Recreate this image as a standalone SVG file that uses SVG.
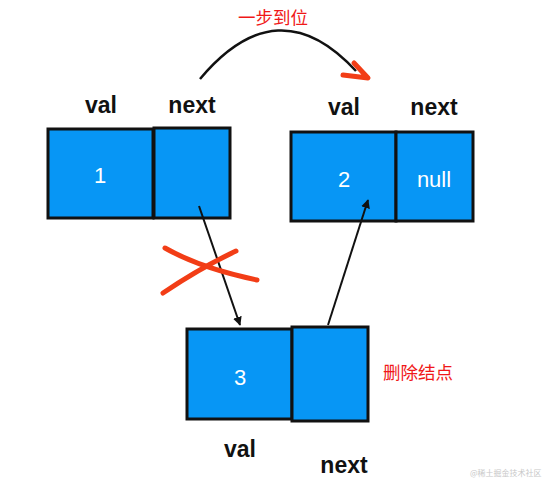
<svg xmlns="http://www.w3.org/2000/svg" width="546" height="478" viewBox="0 0 546 478">
<style>
.box{fill:#0796f5;stroke:#111;stroke-width:3}
.lbl{font-family:"Liberation Sans",Arial,sans-serif;font-weight:bold;font-size:23px;fill:#111;text-anchor:middle}
.num{font-family:"Liberation Sans",Arial,sans-serif;font-size:22px;fill:#fff;text-anchor:middle}
.red{font-family:"Noto Sans CJK SC",sans-serif;font-size:17.5px;fill:#f01818;text-anchor:middle}
.ln{fill:none;stroke:#111;stroke-width:2}
.rd{fill:none;stroke:#f23d16;stroke-width:5;stroke-linecap:round;stroke-linejoin:round}
</style>
<defs>
<marker id="ah" viewBox="0 0 10 10" refX="9" refY="5" markerWidth="9" markerHeight="9" markerUnits="userSpaceOnUse" orient="auto">
<path d="M0,0 L10,5 L0,10 z" fill="#111"/>
</marker>
</defs>
<rect width="546" height="478" fill="#fff"/>
<g id="node1">
<rect class="box" x="48" y="129" width="105" height="89"/>
<rect class="box" x="154" y="128" width="76" height="90"/>
<text class="num" x="100" y="183">1</text>
<text class="lbl" x="101" y="113">val</text>
<text class="lbl" x="192" y="113">next</text>
</g>
<g id="node2">
<rect class="box" x="291" y="132" width="105" height="89"/>
<rect class="box" x="396" y="132" width="77" height="89"/>
<text class="num" x="344" y="187">2</text>
<text class="num" x="434" y="187">null</text>
<text class="lbl" x="344" y="115">val</text>
<text class="lbl" x="434" y="115">next</text>
</g>
<g id="node3">
<rect class="box" x="187" y="329" width="105" height="90"/>
<rect class="box" x="292" y="327" width="76" height="94"/>
<text class="num" x="240" y="385">3</text>
<text class="lbl" x="240" y="457">val</text>
<text class="lbl" x="344" y="473">next</text>
</g>
<g id="connectors">
<path class="ln" d="M199,206 L240,325" marker-end="url(#ah)"/>
<path class="ln" d="M328,325 L368,200" marker-end="url(#ah)"/>
<path d="M200,79 Q278,-14 356,71" fill="none" stroke="#111" stroke-width="2.5"/>
<path class="rd" d="M354,63 L368,78 L343,75"/>
</g>
<g id="labels">
<text class="red" x="273" y="24">一步到位</text>
<text class="red" x="418" y="379">删除结点</text>
<path class="rd" d="M165,248 Q200,268 257,280"/>
<path class="rd" d="M163,293 Q200,268 236,251"/>
<text x="470" y="476" font-family="Noto Sans CJK SC,sans-serif" font-size="8" fill="#c8c8c8">@稀土掘金技术社区</text>
</g>
</svg>
